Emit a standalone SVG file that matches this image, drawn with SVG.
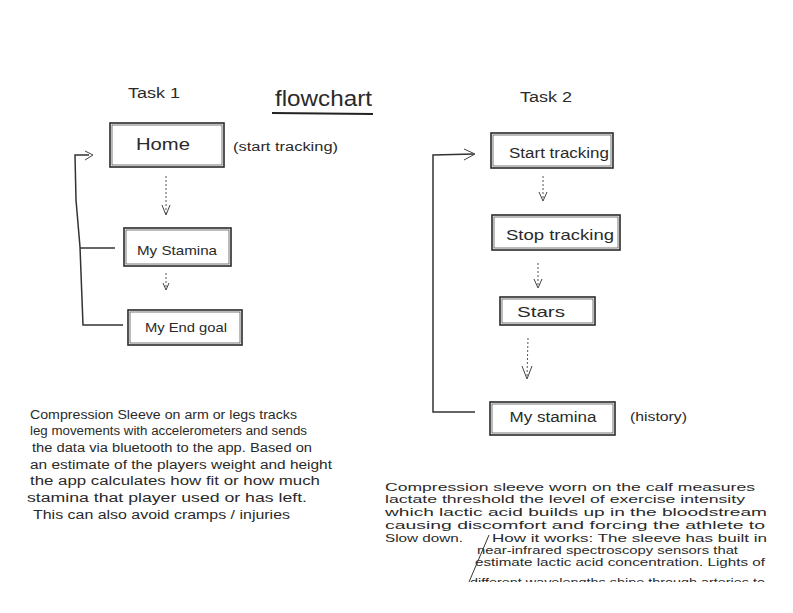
<svg xmlns="http://www.w3.org/2000/svg" width="793" height="613" viewBox="0 0 793 613">
<style>
  text { font-family: "Liberation Sans", Arial, sans-serif; fill: #2a2a2a; }
  .box { fill: none; stroke: #2a2a2a; stroke-width: 1.6; }
  .box2 { fill: none; stroke: #555; stroke-width: 0.8; }
  .lbl { text-anchor: middle; }
  .line { fill: none; stroke: #333; stroke-width: 1.5; }
  .dot { fill: none; stroke: #555; stroke-width: 1; stroke-dasharray: 2 2; }
  .head { fill: none; stroke: #444; stroke-width: 1; }
  .para { font-size: 12.5px; }
  .para2 { font-size: 11px; }
</style>
<defs>
  <clipPath id="bottomClip"><rect x="0" y="0" width="793" height="582"/></clipPath>
</defs>
<rect width="793" height="613" fill="#ffffff"/>

<!-- Titles -->
<text x="128" y="98" font-size="14" textLength="52" lengthAdjust="spacingAndGlyphs">Task 1</text>
<text x="275" y="106" font-size="22" textLength="97" lengthAdjust="spacingAndGlyphs">flowchart</text>
<line x1="272" y1="113" x2="373" y2="114" stroke="#222" stroke-width="2"/>
<text x="520" y="102" font-size="14" textLength="52" lengthAdjust="spacingAndGlyphs">Task 2</text>

<!-- Task 1 nodes -->
<g id="home">
  <rect class="box" x="110" y="123" width="114" height="44"/>
  <rect class="box2" x="112" y="125" width="110" height="40"/>
  <text class="lbl" x="163" y="150" font-size="17" textLength="54" lengthAdjust="spacingAndGlyphs">Home</text>
</g>
<text x="233" y="151" font-size="12" textLength="105" lengthAdjust="spacingAndGlyphs">(start tracking)</text>
<g id="my-stamina-1">
  <rect class="box" x="124" y="228" width="107" height="38"/>
  <rect class="box2" x="126" y="230" width="103" height="34"/>
  <text class="lbl" x="177" y="255" font-size="13" textLength="80" lengthAdjust="spacingAndGlyphs">My Stamina</text>
</g>
<g id="my-end-goal">
  <rect class="box" x="128" y="310" width="114" height="35"/>
  <rect class="box2" x="130" y="312" width="110" height="31"/>
  <text class="lbl" x="186" y="332" font-size="13" textLength="82" lengthAdjust="spacingAndGlyphs">My End goal</text>
</g>

<!-- Task 2 nodes -->
<g id="start-tracking">
  <rect class="box" x="491" y="133" width="122" height="35"/>
  <rect class="box2" x="493" y="135" width="118" height="31"/>
  <text class="lbl" x="559" y="158" font-size="14" textLength="100" lengthAdjust="spacingAndGlyphs">Start tracking</text>
</g>
<g id="stop-tracking">
  <rect class="box" x="492" y="215" width="128" height="35"/>
  <rect class="box2" x="494" y="217" width="124" height="31"/>
  <text class="lbl" x="560" y="240" font-size="15" textLength="108" lengthAdjust="spacingAndGlyphs">Stop tracking</text>
</g>
<g id="stars">
  <rect class="box" x="500" y="297" width="95" height="28"/>
  <rect class="box2" x="502" y="299" width="91" height="24"/>
  <text class="lbl" x="541" y="317" font-size="15" textLength="48" lengthAdjust="spacingAndGlyphs">Stars</text>
</g>
<g id="my-stamina-2">
  <rect class="box" x="490" y="402" width="125" height="33"/>
  <rect class="box2" x="492" y="404" width="121" height="29"/>
  <text class="lbl" x="553" y="422" font-size="14" textLength="87" lengthAdjust="spacingAndGlyphs">My stamina</text>
</g>
<text x="630" y="421" font-size="12" textLength="57" lengthAdjust="spacingAndGlyphs">(history)</text>

<!-- Connectors -->
<g id="connectors">
  <!-- Task 1 -->
  <line class="dot" x1="166" y1="176" x2="166" y2="214"/>
  <polyline class="head" points="162,205 166,215 170,205"/>
  <line class="dot" x1="166" y1="273" x2="166" y2="288"/>
  <polyline class="head" points="163,283 166,290 169,283"/>
  <polyline class="line" points="89,155 75,155 76,200 80,247 83,325 123,325"/>
  <line class="line" x1="80" y1="248" x2="115" y2="248"/>
  <polyline class="head" points="85,151 93,155 85,160" stroke-width="1.4"/>
  <!-- Task 2 -->
  <line class="dot" x1="543" y1="176" x2="543" y2="200"/>
  <polyline class="head" points="539,192 543,201 547,192"/>
  <line class="dot" x1="538" y1="263" x2="538" y2="287"/>
  <polyline class="head" points="534,279 538,288 542,279"/>
  <line class="dot" x1="528" y1="338" x2="527" y2="378"/>
  <polyline class="head" points="522,366 527,379 532,366"/>
  <polyline class="line" points="474,154 433,155 433,412 475,412"/>
  <polyline class="head" points="464,149 475,154 464,160" stroke-width="1.4"/>
</g>

<!-- Left paragraph -->
<g class="para">
  <text x="30" y="419" textLength="267" lengthAdjust="spacingAndGlyphs">Compression Sleeve  on arm or legs tracks</text>
  <text x="30" y="435" textLength="277" lengthAdjust="spacingAndGlyphs">leg movements with accelerometers and sends</text>
  <text x="32" y="452" textLength="280" lengthAdjust="spacingAndGlyphs">the data via bluetooth to the app. Based on</text>
  <text x="30" y="469" textLength="302" lengthAdjust="spacingAndGlyphs">an estimate of the players weight and height</text>
  <text x="30" y="485" textLength="290" lengthAdjust="spacingAndGlyphs">the app calculates how fit or how much</text>
  <text x="27" y="502" textLength="280" lengthAdjust="spacingAndGlyphs">stamina that player used or has left.</text>
  <text x="33" y="519" textLength="257" lengthAdjust="spacingAndGlyphs">This can also avoid cramps / injuries</text>
</g>

<!-- Right paragraph -->
<g class="para2" clip-path="url(#bottomClip)">
  <text x="385" y="491" textLength="370" lengthAdjust="spacingAndGlyphs">Compression sleeve worn on the calf measures</text>
  <text x="385" y="503" textLength="360" lengthAdjust="spacingAndGlyphs">lactate threshold the level of exercise intensity</text>
  <text x="385" y="516" textLength="382" lengthAdjust="spacingAndGlyphs">which lactic acid builds up in the bloodstream</text>
  <text x="385" y="529" textLength="380" lengthAdjust="spacingAndGlyphs">causing discomfort and forcing the athlete to</text>
  <text x="385" y="542" textLength="78" lengthAdjust="spacingAndGlyphs">Slow down.</text>
  <text x="492" y="542" textLength="275" lengthAdjust="spacingAndGlyphs">How it works: The sleeve has built in</text>
  <text x="477" y="554" font-size="10.5" textLength="261" lengthAdjust="spacingAndGlyphs">near-infrared spectroscopy sensors that</text>
  <text x="475" y="566" font-size="10.5" textLength="290" lengthAdjust="spacingAndGlyphs">estimate lactic acid concentration. Lights of</text>
  <text x="470" y="586" font-size="10.5" textLength="295" lengthAdjust="spacingAndGlyphs">different wavelengths shine through arteries to</text>
  <line x1="489" y1="535" x2="469" y2="582" stroke="#333" stroke-width="1"/>
</g>
</svg>
